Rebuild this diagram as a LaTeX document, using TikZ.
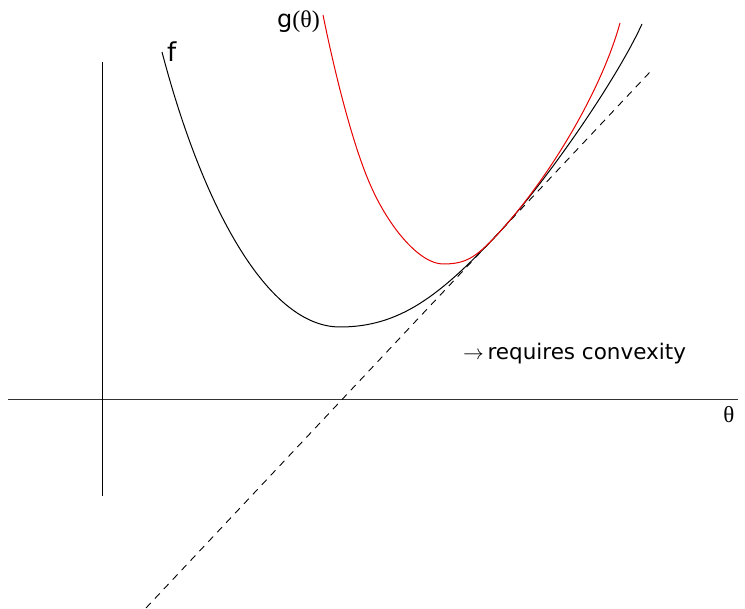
\documentclass[tikz,border=0pt]{standalone}
\usepackage{fontspec}
\setmainfont{DejaVu Sans}
\newfontfamily\grkfont{Liberation Serif}
\usepackage{tikz}
\usetikzlibrary{positioning}
\definecolor{gred}{RGB}{230,0,0}
\tikzset{
  axis/.style    ={line width=1pt, black!80},
  fcurve/.style  ={line width=1pt, black},
  gcurve/.style  ={line width=1pt, gred},
  tangent/.style ={line width=0.9pt, dash pattern=on 7pt off 6pt},
  lbl/.style     ={inner sep=0pt, font=\fontsize{21.5}{26}\selectfont},
}

\begin{document}
\begin{tikzpicture}[x=1pt,y=-1pt]
    \useasboundingbox (0,0) rectangle (745,609);
    % axes
    \coordinate (xl) at (8,400);
    \coordinate (xr) at (738,400);
    \coordinate (yt) at (102,62);
    \coordinate (yb) at (102,496);
    \draw[axis] (xl) -- (xr);
    \draw[axis, black] (yt) -- (yb);
    % tangent at the touching point
    \coordinate (tlo) at (146,608);
    \coordinate (thi) at (650,72);
    \coordinate (touch) at (495,237);
    \draw[tangent] (tlo) -- (thi);
    % f
    \coordinate (fa) at (162,52);
    \coordinate (fmin) at (340,327);
    \coordinate (fb) at (642,24);
    \draw[fcurve] (fa) .. controls (203,208) and (268,327) .. (fmin)
                       .. controls (400,327) and (440,295) .. (touch)
                       .. controls (545,184) and (617,79) .. (fb);
    % g
    \coordinate (ga) at (323,15);
    \coordinate (gmid) at (367,177);
    \coordinate (gmin) at (443,264);
    \coordinate (gb) at (620,23);
    \draw[gcurve] (ga) .. controls (333,64) and (349,132) .. (gmid)
                       .. controls (387,227) and (420,264) .. (gmin)
                       .. controls (465,264) and (475,258) .. (touch)
                       .. controls (545,184) and (600,95) .. (gb);
    % labels
    \node[lbl, anchor=base west, font=\fontsize{26}{30}\selectfont] (flbl) at (167,62) {f};
    \node[lbl, anchor=base west, font=\fontsize{24}{28}\selectfont] (glbl) at (277,28) {g{\grkfont(θ)}};
    \node[lbl, anchor=center, font=\fontsize{23}{28}\selectfont] (thlbl) at (729,415) {\grkfont θ};
    \node[lbl, anchor=base west] (note) at (463,360) {$\rightarrow$\,requires convexity};
\end{tikzpicture}
\end{document}
